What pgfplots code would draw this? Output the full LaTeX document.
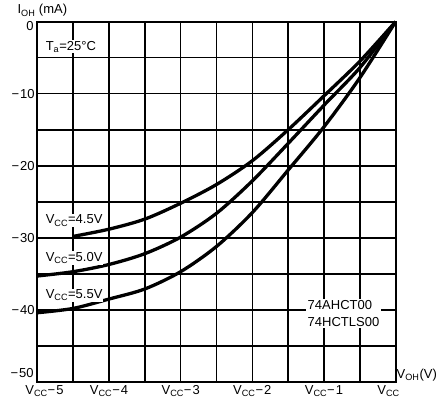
\documentclass[border=0pt]{standalone}
\usepackage{pgfplots}
\pgfplotsset{compat=1.18}
\usetikzlibrary{calc}
\usepackage{fontspec}
\setmainfont{Liberation Sans}
\newcommand{\sub}[1]{\textsubscript{#1}}
\newcommand{\m}{−\kern1pt}
\newcommand{\fs}{\fontsize{13}{15}\selectfont}
\begin{document}
\begin{tikzpicture}
\begin{axis}[
  name=ax,
  scale only axis, width=358pt, height=360pt,
  xmin=-5, xmax=0, ymin=-50, ymax=0,
  xtick={-5,-4,-3,-2,-1,0},
  xticklabels={\hspace*{14pt}V\sub{CC}\m5,V\sub{CC}\m4,V\sub{CC}\m3,V\sub{CC}\m2,V\sub{CC}\m1,V\sub{CC}\hspace*{14pt}},
  minor xtick={-4.5,-3.5,-2.5,-1.5,-0.5},
  ytick={-50,-40,-30,-20,-10,0},
  yticklabels={,\m40,\m30,\m20,\m10,},
  minor ytick={-45,-35,-25,-15,-5},
  grid=both,
  major grid style={black, line width=1.5pt},
  minor grid style={black, line width=1.5pt},
  major tick length=0pt, minor tick length=0pt,
  axis line style={black, line width=2pt},
  tick label style={font=\fs, inner sep=1pt},
  xticklabel style={anchor=north, yshift=-2pt},
  yticklabel style={anchor=east, xshift=-1.5pt},
  clip=false,
]
\addplot[black, line width=3.3pt, smooth] coordinates {
 (-4.5,-29.8) (-4,-28.8) (-3.5,-27.4) (-3,-25.2) (-2.5,-22.6) (-2,-19.3) (-1.5,-15.0) (-1,-10.3) (-0.5,-5.5) (0,0)};
\addplot[black, line width=3.3pt, smooth] coordinates {
 (-5,-35.3) (-4.5,-34.7) (-4,-33.7) (-3.5,-32.2) (-3,-29.9) (-2.5,-26.6) (-2,-22.1) (-1.5,-16.9) (-1,-11.6) (-0.5,-6.4) (0,0)};
\addplot[black, line width=3.3pt, smooth] coordinates {
 (-5,-40.4) (-4.5,-39.8) (-4,-38.5) (-3.5,-37.1) (-3,-34.7) (-2.5,-31.2) (-2,-26.5) (-1.5,-20.6) (-1,-14.6) (-0.5,-7.8) (0,0)};
\node[anchor=east, inner sep=1pt, font=\fs, xshift=-2.5pt] at (axis cs:-5,-48.8) {\m50};
\node[anchor=east, inner sep=1pt, font=\fs, xshift=-2.5pt] at (axis cs:-5,-0.6) {0};
\node[fill=white, inner sep=1pt, font=\fs, anchor=west] at (axis cs:-4.9,-3.5) {T\sub{a}=25°C};
\node[fill=white, inner sep=1pt, font=\fs, anchor=west] at (axis cs:-4.9,-27.6) {V\sub{CC}=4.5V};
\node[fill=white, inner sep=1pt, font=\fs, anchor=west] at (axis cs:-4.9,-32.8) {V\sub{CC}=5.0V};
\node[fill=white, inner sep=1pt, font=\fs, anchor=west] at (axis cs:-4.9,-38.0) {V\sub{CC}=5.5V};
\node[fill=white, inner sep=1.5pt, font=\fontsize{13}{16.5}\selectfont, align=left, anchor=west] at (axis cs:-1.25,-40.5) {74AHCT00\\74HCTLS00};
\end{axis}
\node[font=\fs, anchor=south west, inner sep=0pt] at ($(ax.north west)+(-20pt,5pt)$) {I\sub{OH} (mA)};
\node[font=\fs, anchor=east, inner sep=0pt] at ($(ax.south east)+(41.5pt,6.5pt)$) {V\sub{OH}(V)};
\path ($(ax.south west)+(-37.4pt,-15.3pt)$) rectangle ($(ax.north east)+(44.4pt,21.7pt)$);
\end{tikzpicture}
\end{document}
